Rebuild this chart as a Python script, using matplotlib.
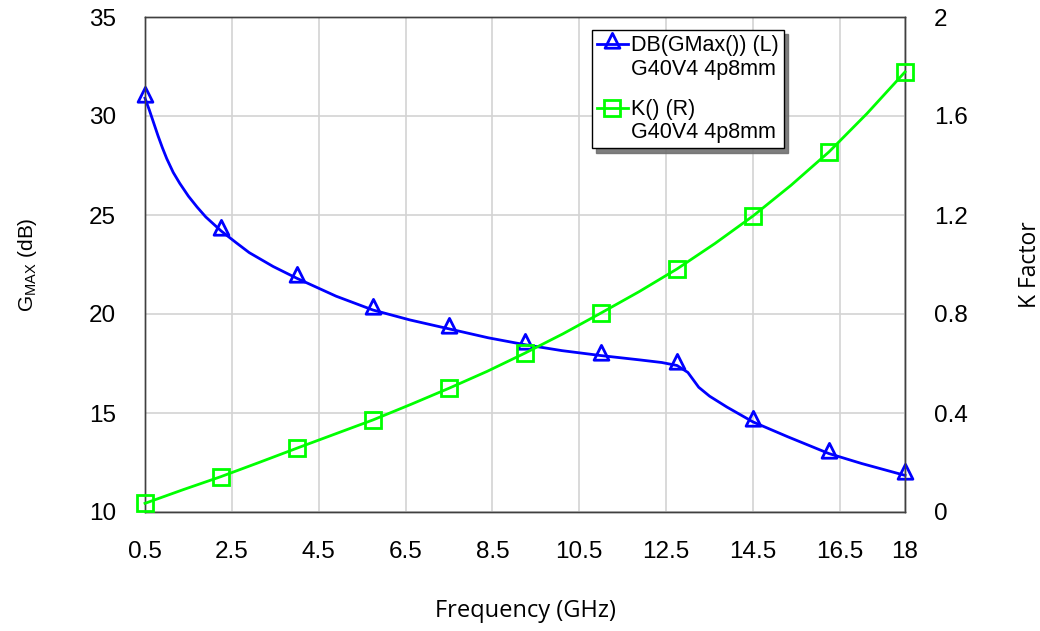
import matplotlib
matplotlib.use("Agg")
import matplotlib.pyplot as plt
from matplotlib.path import Path
from matplotlib.lines import Line2D
from matplotlib.ticker import FixedLocator

# GMax (dB) trace, left axis
freq_g = [0.5, 0.6, 0.7, 0.8, 0.9, 1.0, 1.15, 1.3, 1.5, 1.7, 1.9, 2.25, 2.6,
          2.9, 3.45, 4.0, 4.9, 5.75, 6.6, 7.5, 8.4, 9.25, 10.1, 11.0, 11.9,
          12.4, 12.75, 13.0, 13.25, 13.5, 13.9, 14.5, 15.3, 16.25, 17.0, 18.0]
gmax_db = [30.9, 30.3, 29.65, 29.0, 28.4, 27.85, 27.15, 26.6, 25.95, 25.4,
           24.9, 24.2, 23.6, 23.1, 22.4, 21.8, 20.9, 20.2, 19.7, 19.25, 18.8,
           18.45, 18.15, 17.9, 17.68, 17.55, 17.4, 17.05, 16.3, 15.85, 15.3,
           14.55, 13.8, 12.95, 12.45, 11.85]

# K factor trace, right axis
freq_k = [0.5, 1.375, 2.25, 3.125, 4.0, 4.875, 5.75, 6.625, 7.5, 8.375, 9.25,
          10.125, 11.0, 11.875, 12.75, 13.625, 14.5, 15.375, 16.25, 17.125, 18.0]
k_factor = [0.035, 0.09, 0.143, 0.20, 0.258, 0.315, 0.372, 0.435, 0.50, 0.568,
            0.642, 0.72, 0.804, 0.89, 0.982, 1.085, 1.196, 1.32, 1.455, 1.61, 1.778]

marker_freqs = [0.5, 2.25, 4.0, 5.75, 7.5, 9.25, 11.0, 12.75, 14.5, 16.25, 18.0]

x_ticks = [0.5, 2.5, 4.5, 6.5, 8.5, 10.5, 12.5, 14.5, 16.5, 18]
x_ticklabels = ["0.5", "2.5", "4.5", "6.5", "8.5", "10.5", "12.5", "14.5", "16.5", "18"]
left_ticks = [10, 15, 20, 25, 30, 35]
right_ticks = [0, 0.4, 0.8, 1.2, 1.6, 2]
right_ticklabels = ["0", "0.4", "0.8", "1.2", "1.6", "2"]

legend_lines = ["DB(GMax()) (L)", "G40V4 4p8mm", "", "K() (R)", "G40V4 4p8mm"]

plt.rcParams["font.family"] = ["Liberation Sans", "DejaVu Sans"]

# triangle with its anchor a bit above the base
tri = Path([(-1, -0.5), (1, -0.5), (0, 1.5), (-1, -0.5)],
           [Path.MOVETO, Path.LINETO, Path.LINETO, Path.CLOSEPOLY])

fig = plt.figure(figsize=(10.4, 6.31), dpi=100)
ax = fig.add_axes([145 / 1040, 1 - 512 / 631, 760 / 1040, 495 / 631])
ax2 = ax.twinx()

blue = "#0000ff"
green = "#00ff00"

mk_g = [freq_g.index(f) for f in marker_freqs]
mk_k = [freq_k.index(f) for f in marker_freqs]

l1, = ax.plot(freq_g, gmax_db, color=blue, lw=2.0, marker=tri, ms=16,
              mfc="none", mec=blue, mew=2.0, markevery=mk_g, clip_on=False,
              zorder=3)
l2, = ax2.plot(freq_k, k_factor, color=green, lw=2.0, marker="s", ms=11.5,
               mfc="none", mec=green, mew=2.0, markevery=mk_k, clip_on=False,
               zorder=3)

ax.set_xlim(0.5, 18)
ax.set_ylim(10, 35)
ax2.set_ylim(0, 2)

ax.xaxis.set_major_locator(FixedLocator(x_ticks))
ax.set_xticklabels(x_ticklabels)
ax.set_yticks(left_ticks)
ax2.set_yticks(right_ticks)
ax2.set_yticklabels(right_ticklabels)

ax.grid(True, color="#d3d3d3", lw=1.2)
ax.set_axisbelow(True)

ax.tick_params(axis="x", length=0, pad=21, labelsize=17.5)
ax.tick_params(axis="y", length=0, pad=21, labelsize=17.5)
ax2.tick_params(axis="y", length=0, pad=21, labelsize=17.5)

for a in (ax, ax2):
    for s in a.spines.values():
        s.set_color("#404040")
        s.set_linewidth(1.0)

ax.set_xlabel("Frequency (GHz)", family=["Open Sans", "DejaVu Sans"],
              fontsize=17, labelpad=26)
ax.set_ylabel(r"G$_{\mathregular{MAX}}$ (dB)", fontsize=15, labelpad=36)
ax2.set_ylabel("K Factor", family=["Open Sans", "DejaVu Sans"],
               fontsize=16.5, labelpad=36)

# legend: one row per text line, blank handles for the second lines
blank = Line2D([], [], ls="none")
handles = [l1, blank, blank, l2, blank]
leg = ax2.legend(handles, legend_lines, loc="upper left",
                 bbox_to_anchor=(592 / 1040, 1 - 30 / 631),
                 bbox_transform=fig.transFigure, frameon=True, fancybox=False,
                 shadow={"color": "#707070", "alpha": 0.9, "ox": 3, "oy": -3},
                 edgecolor="black", fontsize=15.5,
                 handlelength=1.4, handletextpad=0.15, borderpad=0.25,
                 labelspacing=0.1, handleheight=0.55, borderaxespad=0)
leg.get_frame().set_linewidth(1.0)
leg.get_texts()[2].set_fontsize(4)

fig.savefig("out.png", dpi=100)
